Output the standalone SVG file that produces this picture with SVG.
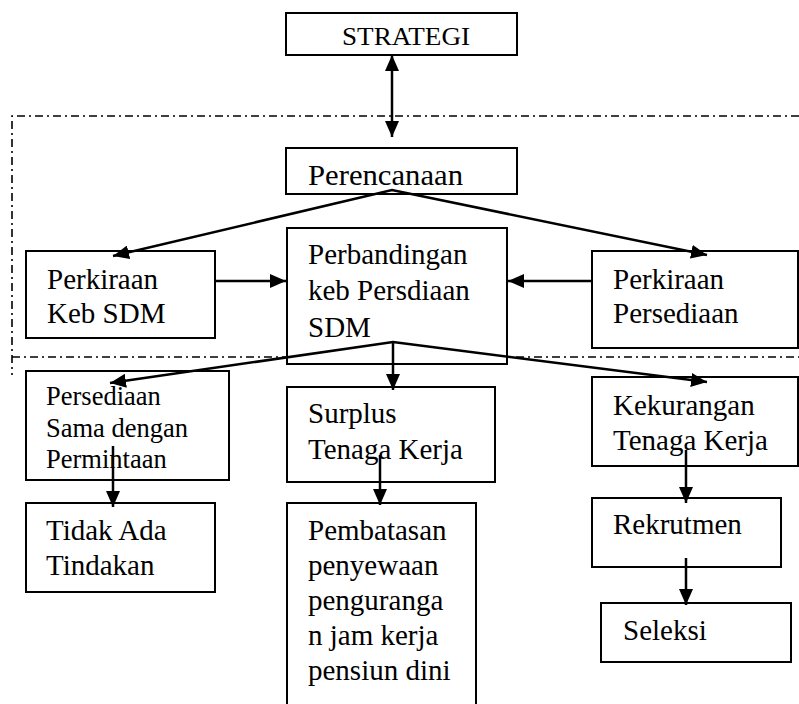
<svg xmlns="http://www.w3.org/2000/svg" width="799" height="704" viewBox="0 0 799 704">
<style>
.box{fill:#fff;stroke:#000;stroke-width:2}
.t{font-family:"Liberation Serif","Times New Roman",serif;font-size:29px;fill:#000}
.s{font-size:26.5px}
.c{stroke:#000;stroke-width:2.5;fill:none}
.dd{stroke:#000;stroke-width:1.6;fill:none;stroke-dasharray:8 4 2 4}
</style>
<defs>
<marker id="ah" viewBox="0 0 16 14" refX="16" refY="7" markerWidth="16" markerHeight="14" markerUnits="userSpaceOnUse" orient="auto-start-reverse">
<path d="M0,0 L16,7 L0,14 Z" fill="#000"/>
</marker>
</defs>
<g id="frame">
<path class="dd" d="M799,116 H12 V375"/>
<path class="dd" d="M12,357 H799"/>
</g>
<g id="n-strategi"><rect class="box" x="286" y="13" width="231" height="42"/><text class="t" x="342" y="45" style="font-size:26px" textLength="128" lengthAdjust="spacingAndGlyphs">STRATEGI</text></g>
<g id="n-perencanaan"><rect class="box" x="286" y="148" width="231" height="46"/><text class="t" x="308" y="185" textLength="155" lengthAdjust="spacingAndGlyphs">Perencanaan</text></g>
<g id="n-kebsdm"><rect class="box" x="26" y="251" width="189" height="87"/><text class="t" x="47" y="289">Perkiraan</text><text class="t" x="47" y="323">Keb SDM</text></g>
<g id="n-perbandingan"><rect class="box" x="287" y="228" width="220" height="136"/><text class="t" x="308" y="264">Perbandingan</text><text class="t" x="308" y="300">keb Persdiaan</text><text class="t" x="308" y="337">SDM</text></g>
<g id="n-persediaan"><rect class="box" x="592" y="251" width="206" height="97"/><text class="t" x="613" y="289">Perkiraan</text><text class="t" x="613" y="323">Persediaan</text></g>
<g id="n-sama"><rect class="box" x="26" y="371" width="203" height="109"/><text class="t s" x="46" y="405">Persediaan</text><text class="t s" x="46" y="437">Sama dengan</text><text class="t s" x="46" y="468">Permintaan</text></g>
<g id="n-surplus"><rect class="box" x="287" y="387" width="208" height="95"/><text class="t" x="308" y="423">Surplus</text><text class="t" x="308" y="459">Tenaga Kerja</text></g>
<g id="n-kekurangan"><rect class="box" x="592" y="377" width="206" height="89"/><text class="t" x="613" y="415">Kekurangan</text><text class="t" x="613" y="450">Tenaga Kerja</text></g>
<g id="n-tidak"><rect class="box" x="26" y="503" width="189" height="89"/><text class="t" x="46" y="540">Tidak Ada</text><text class="t" x="46" y="575">Tindakan</text></g>
<g id="n-pembatasan"><rect class="box" x="287" y="503" width="189" height="210"/><text class="t" x="308" y="540">Pembatasan</text><text class="t" x="308" y="575">penyewaan</text><text class="t" x="308" y="610">penguranga</text><text class="t" x="308" y="645">n jam kerja</text><text class="t" x="308" y="680">pensiun dini</text></g>
<g id="n-rekrutmen"><rect class="box" x="592" y="498" width="189" height="69"/><text class="t" x="613" y="534">Rekrutmen</text></g>
<g id="n-seleksi"><rect class="box" x="601" y="603" width="190" height="59"/><text class="t" x="623" y="640">Seleksi</text></g>
<g id="connectors">
<line class="c" x1="392" y1="55" x2="392" y2="137" marker-start="url(#ah)" marker-end="url(#ah)"/>
<polyline class="c" points="113,256 392,190 707,255" marker-start="url(#ah)" marker-end="url(#ah)"/>
<line class="c" x1="215" y1="281" x2="286" y2="281" marker-end="url(#ah)"/>
<line class="c" x1="592" y1="281" x2="508" y2="281" marker-end="url(#ah)"/>
<polyline class="c" points="110,383 393,342 707,382" marker-start="url(#ah)" marker-end="url(#ah)"/>
<line class="c" x1="393" y1="342" x2="393" y2="390" marker-end="url(#ah)"/>
<line class="c" x1="113" y1="446" x2="113" y2="507" marker-end="url(#ah)"/>
<line class="c" x1="380" y1="455" x2="380" y2="505" marker-end="url(#ah)"/>
<line class="c" x1="686" y1="450" x2="686" y2="503" marker-end="url(#ah)"/>
<line class="c" x1="686" y1="558" x2="686" y2="605" marker-end="url(#ah)"/>
</g>
</svg>
